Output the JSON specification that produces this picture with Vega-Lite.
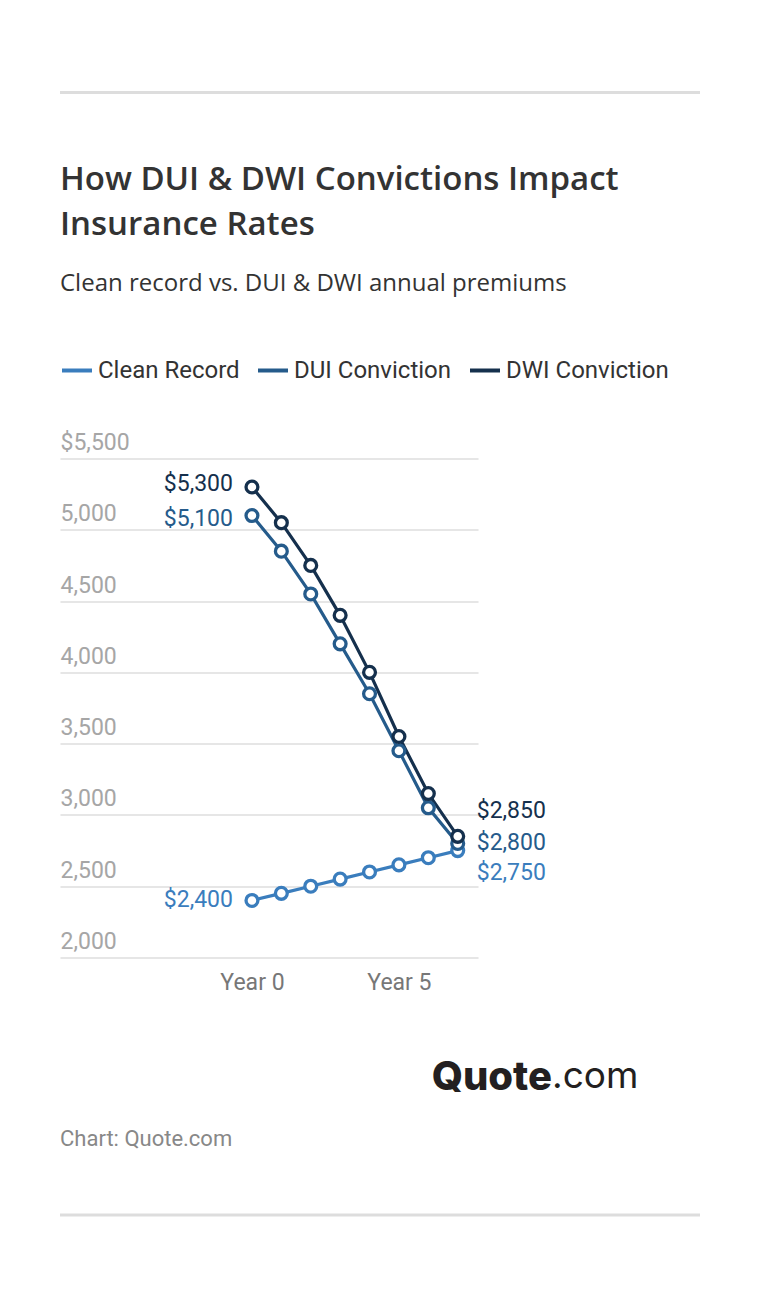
{
  "$schema": "https://vega.github.io/schema/vega-lite/v6.json",
  "background": "white",
  "padding": {"left": 58, "top": 90.5, "right": 62, "bottom": 80},
  "autosize": {"type": "pad"},
  "spacing": 0,
  "bounds": "flush",
  "config": {
    "view": {"stroke": null},
    "font": "Roboto",
    "title": {"anchor": "start", "frame": "group"}
  },
  "datasets": {
    "premiums": [
      {"year": 0, "series": "Clean Record", "premium": 2400},
      {"year": 1, "series": "Clean Record", "premium": 2450},
      {"year": 2, "series": "Clean Record", "premium": 2500},
      {"year": 3, "series": "Clean Record", "premium": 2550},
      {"year": 4, "series": "Clean Record", "premium": 2600},
      {"year": 5, "series": "Clean Record", "premium": 2650},
      {"year": 6, "series": "Clean Record", "premium": 2700},
      {"year": 7, "series": "Clean Record", "premium": 2750},
      {"year": 0, "series": "DUI Conviction", "premium": 5100},
      {"year": 1, "series": "DUI Conviction", "premium": 4850},
      {"year": 2, "series": "DUI Conviction", "premium": 4550},
      {"year": 3, "series": "DUI Conviction", "premium": 4200},
      {"year": 4, "series": "DUI Conviction", "premium": 3850},
      {"year": 5, "series": "DUI Conviction", "premium": 3450},
      {"year": 6, "series": "DUI Conviction", "premium": 3050},
      {"year": 7, "series": "DUI Conviction", "premium": 2800},
      {"year": 0, "series": "DWI Conviction", "premium": 5300},
      {"year": 1, "series": "DWI Conviction", "premium": 5050},
      {"year": 2, "series": "DWI Conviction", "premium": 4750},
      {"year": 3, "series": "DWI Conviction", "premium": 4400},
      {"year": 4, "series": "DWI Conviction", "premium": 4000},
      {"year": 5, "series": "DWI Conviction", "premium": 3550},
      {"year": 6, "series": "DWI Conviction", "premium": 3150},
      {"year": 7, "series": "DWI Conviction", "premium": 2850}
    ]
  },
  "vconcat": [
    {
      "width": 640,
      "height": 365.7,
      "data": {"values": [{"divider": "top"}]},
      "mark": {"type": "rule", "color": "#dddddd", "strokeWidth": 3},
      "encoding": {
        "y": {"datum": 1, "type": "quantitative", "scale": {"domain": [0, 1]}, "axis": null}
      }
    },
    {
      "width": 418,
      "height": 499,
      "title": {
        "text": ["How DUI & DWI Convictions Impact", "Insurance Rates"],
        "subtitle": "Clean record vs. DUI & DWI annual premiums",
        "anchor": "start",
        "frame": "group",
        "font": "Open Sans",
        "fontSize": 33,
        "fontWeight": 600,
        "color": "#333333",
        "lineHeight": 45,
        "subtitleFont": "Open Sans",
        "subtitleFontSize": 24,
        "subtitleColor": "#333333",
        "subtitlePadding": 30,
        "offset": 136
      },
      "data": {"name": "premiums"},
      "encoding": {
        "x": {
          "field": "year",
          "type": "quantitative",
          "scale": {"domain": [-6.53, 7.69], "nice": false, "zero": false},
          "axis": {
            "values": [0, 5],
            "labelExpr": "'Year ' + datum.value",
            "domain": false,
            "ticks": false,
            "tickSize": 0,
            "grid": false,
            "labelPadding": 14,
            "labelFont": "Roboto",
            "labelFontSize": 23,
            "labelColor": "#777777",
            "labelFlush": false,
            "title": null
          }
        },
        "y": {
          "field": "premium",
          "type": "quantitative",
          "scale": {"domain": [2000, 5500], "nice": false, "zero": false},
          "axis": {
            "values": [2000, 2500, 3000, 3500, 4000, 4500, 5000, 5500],
            "labelExpr": "datum.value == 5500 ? '$5,500' : format(datum.value, ',')",
            "labelAlign": "left",
            "labelBaseline": "alphabetic",
            "labelPadding": 0,
            "labelOffset": -9,
            "ticks": false,
            "tickSize": 0,
            "domain": false,
            "labelFont": "Roboto",
            "labelFontSize": 23,
            "labelColor": "#a6a6a6",
            "labelFlush": false,
            "labelOverlap": false,
            "grid": true,
            "gridColor": "#e6e6e6",
            "gridWidth": 2,
            "title": null
          }
        },
        "color": {
          "field": "series",
          "type": "nominal",
          "scale": {
            "domain": ["Clean Record", "DUI Conviction", "DWI Conviction"],
            "range": ["#3a7dbd", "#255b8b", "#15304d"]
          },
          "legend": null
        }
      },
      "layer": [
        {
          "mark": {"type": "line", "strokeWidth": 3.2},
          "encoding": {
            "color": {
              "field": "series",
              "type": "nominal",
              "legend": {
                "orient": "none",
                "legendX": 0,
                "legendY": 261,
                "direction": "horizontal",
                "title": null,
                "padding": 0,
                "labelFont": "Roboto",
                "labelFontSize": 24,
                "labelColor": "#333333",
                "labelLimit": 400,
                "labelOffset": 4,
                "columnPadding": 10,
                "symbolType": "stroke",
                "symbolStrokeWidth": 4,
                "symbolSize": 900
              }
            }
          }
        },
        {
          "mark": {"type": "point", "filled": false, "fill": "white", "size": 140, "strokeWidth": 3.3, "opacity": 1}
        },
        {
          "transform": [{"filter": "datum.year == 0 && datum.series == 'Clean Record'"}],
          "mark": {"type": "text", "align": "right", "baseline": "middle", "dx": -19, "dy": -0.5, "fontSize": 23, "font": "Roboto"},
          "encoding": {"text": {"field": "premium", "format": "$,.0f"}}
        },
        {
          "transform": [{"filter": "datum.year == 0 && datum.series == 'DUI Conviction'"}],
          "mark": {"type": "text", "align": "right", "baseline": "middle", "dx": -19, "dy": 3, "fontSize": 23, "font": "Roboto"},
          "encoding": {"text": {"field": "premium", "format": "$,.0f"}}
        },
        {
          "transform": [{"filter": "datum.year == 0 && datum.series == 'DWI Conviction'"}],
          "mark": {"type": "text", "align": "right", "baseline": "middle", "dx": -19, "dy": -3, "fontSize": 23, "font": "Roboto"},
          "encoding": {"text": {"field": "premium", "format": "$,.0f"}}
        },
        {
          "transform": [{"filter": "datum.year == 7 && datum.series == 'Clean Record'"}],
          "mark": {"type": "text", "align": "left", "baseline": "middle", "dx": 19, "dy": 22.5, "fontSize": 23, "font": "Roboto"},
          "encoding": {"text": {"field": "premium", "format": "$,.0f"}}
        },
        {
          "transform": [{"filter": "datum.year == 7 && datum.series == 'DUI Conviction'"}],
          "mark": {"type": "text", "align": "left", "baseline": "middle", "dx": 19, "dy": -0.5, "fontSize": 23, "font": "Roboto"},
          "encoding": {"text": {"field": "premium", "format": "$,.0f"}}
        },
        {
          "transform": [{"filter": "datum.year == 7 && datum.series == 'DWI Conviction'"}],
          "mark": {"type": "text", "align": "left", "baseline": "middle", "dx": 19, "dy": -25.7, "fontSize": 23, "font": "Roboto"},
          "encoding": {"text": {"field": "premium", "format": "$,.0f"}}
        }
      ]
    },
    {
      "spacing": 0,
      "bounds": "flush",
      "hconcat": [
        {
          "width": 375,
          "height": 100,
          "title": {"text": "Chart: Quote.com", "orient": "bottom", "anchor": "start", "baseline": "top", "offset": 71, "font": "Roboto", "fontSize": 22, "fontWeight": 400, "color": "#888888"},
          "data": {"values": []},
          "mark": "text",
          "encoding": {}
        },
        {
          "width": 117,
          "height": 100,
          "title": {"text": "Quote", "orient": "bottom", "anchor": "end", "baseline": "top", "offset": 0, "font": "Inter", "fontSize": 40, "fontWeight": 800, "color": "#231f20"},
          "data": {"values": []},
          "mark": "text",
          "encoding": {}
        },
        {
          "width": 148,
          "height": 100,
          "title": {"text": ".com", "orient": "bottom", "anchor": "start", "baseline": "top", "offset": 1, "font": "Inter", "fontSize": 37, "fontWeight": 400, "color": "#231f20"},
          "data": {"values": []},
          "mark": "text",
          "encoding": {}
        }
      ]
    },
    {
      "width": 640,
      "height": 257.6,
      "data": {"values": [{"divider": "bottom"}]},
      "mark": {"type": "rule", "color": "#dddddd", "strokeWidth": 3},
      "encoding": {
        "y": {"datum": 0, "type": "quantitative", "scale": {"domain": [0, 1]}, "axis": null}
      }
    }
  ]
}
